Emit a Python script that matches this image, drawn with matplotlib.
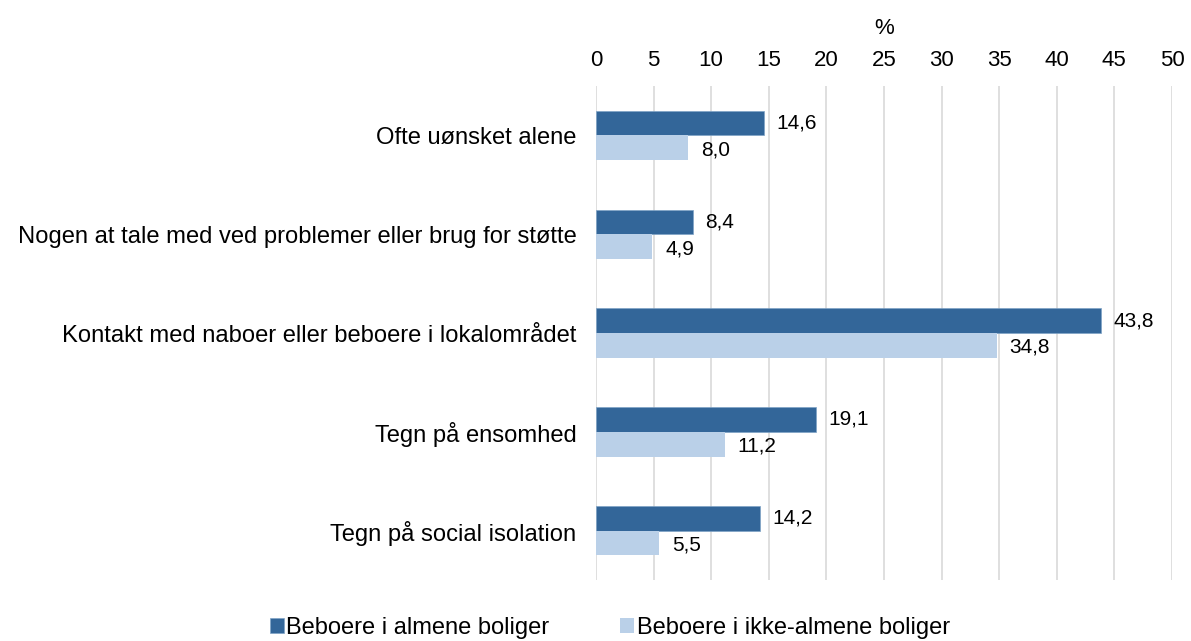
import matplotlib
matplotlib.use('Agg')
import matplotlib.pyplot as plt
import numpy as np

plt.rcParams['font.family'] = ['Liberation Sans', 'DejaVu Sans']

categories = ['Ofte uønsket alene',
              'Nogen at tale med ved problemer eller brug for støtte',
              'Kontakt med naboer eller beboere i lokalområdet',
              'Tegn på ensomhed',
              'Tegn på social isolation']
almene = [14.6, 8.4, 43.8, 19.1, 14.2]
ikke_almene = [8.0, 4.9, 34.8, 11.2, 5.5]
series_names = ['Beboere i almene boliger', 'Beboere i ikke-almene boliger']
dark = '#336699'
light = '#BAD0E8'

fig = plt.figure(figsize=(11.91, 6.41), dpi=100)
ax = fig.add_axes([0.5004, 1 - 580 / 641, 0.4836, 494 / 641])

y = np.arange(len(categories))
h = 0.25
ax.barh(y - h / 2, almene, height=h, color=dark, edgecolor='#7FA3C6', linewidth=0.5,
        label=series_names[0], zorder=3)
ax.barh(y + h / 2, ikke_almene, height=h, color=light, label=series_names[1], zorder=3)

for i in range(len(categories)):
    ax.text(almene[i] + 1.1, y[i] - h / 2, f'{almene[i]:.1f}'.replace('.', ','),
            va='center', ha='left', fontsize=15)
    ax.text(ikke_almene[i] + 1.1, y[i] + h / 2 + 0.02, f'{ikke_almene[i]:.1f}'.replace('.', ','),
            va='center', ha='left', fontsize=15)

ax.set_ylim(len(categories) - 0.5, -0.5)
ax.set_xlim(0, 50)
ax.set_xticks(range(0, 51, 5))
ax.xaxis.tick_top()
ax.xaxis.set_label_position('top')
ax.set_xlabel('%', fontsize=16, labelpad=11)
ax.tick_params(axis='x', length=0, labelsize=16, pad=11)
ax.set_yticks(y)
ax.set_yticklabels(categories, fontsize=17.1)
ax.tick_params(axis='y', length=0, pad=14)
ax.grid(axis='x', color='#D9D9D9', linewidth=1.2, zorder=0)
for s in ax.spines.values():
    s.set_visible(False)

handles, labels = ax.get_legend_handles_labels()
fig.legend(handles, labels, loc='lower center', bbox_to_anchor=(0.512, -0.03), ncol=2,
           frameon=False, fontsize=17, handlelength=0.6, handleheight=0.6,
           handletextpad=0.1, columnspacing=3.0)

fig.savefig('out.png', dpi=100)
